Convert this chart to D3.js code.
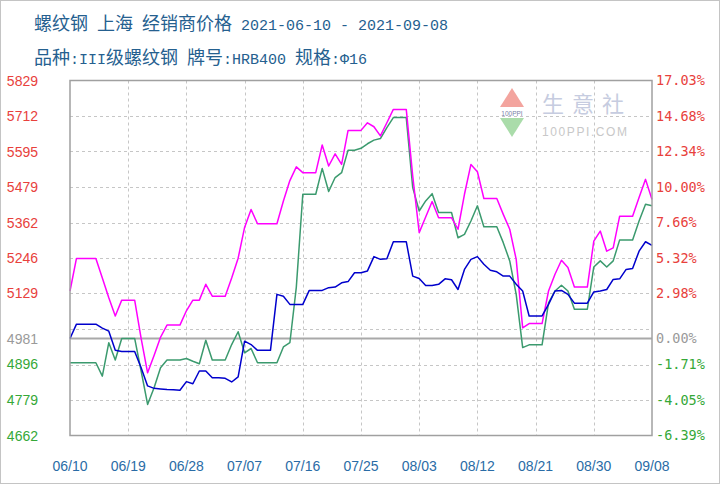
<!DOCTYPE html>
<html><head><meta charset="utf-8">
<script src="https://cdn.jsdelivr.net/npm/d3@7"></script>
<style>body{margin:0;background:#fff;} svg{display:block;} text{white-space:pre;}</style>
</head><body><svg id="c" width="720" height="484"></svg>
<script>
// ---- data ----
const titleLine1 = "螺纹钢 上海 经销商价格 2021-06-10 - 2021-09-08";
const titleLine2 = "品种:III级螺纹钢 牌号:HRB400 规格:Φ16";
const startDate = "2021-06-10";
const endDate = "2021-09-08";
const baseValue = 4981;

const magentaValues = [5137,5244,5244,5244,5244,5180,5115,5055,5107,5107,
  5107,4981,4868,4925,4985,5025,5025,5025,5072,5107,
  5107,5159,5120,5120,5120,5180,5245,5346,5405,5358,
  5358,5358,5358,5433,5500,5545,5526,5526,5526,5617,
  5548,5588,5553,5665,5665,5665,5690,5677,5647,5690,
  5734,5734,5734,5515,5329,5380,5431,5378,5378,5378,
  5340,5455,5553,5529,5441,5441,5441,5389,5340,5241,
  5016,5030,5030,5030,5137,5192,5238,5214,5150,5150,
  5150,5301,5334,5268,5279,5383,5383,5383,5444,5504,5438];
const greenValues = [4901,4901,4901,4901,4901,4857,4967,4910,4981,4981,
  4981,4874,4764,4819,4885,4910,4910,4910,4915,4906,
  4898,4975,4910,4910,4910,4961,5003,4934,4948,4901,
  4901,4901,4901,4953,4967,5150,5455,5455,5455,5540,
  5464,5510,5526,5600,5600,5606,5621,5633,5638,5674,
  5707,5707,5707,5477,5400,5433,5457,5395,5395,5395,
  5312,5323,5367,5417,5348,5348,5348,5296,5236,5126,
  4951,4960,4960,4960,5098,5137,5156,5137,5077,5077,
  5077,5216,5236,5216,5236,5305,5305,5305,5367,5422,5417];
const blueValues = [4981,5028,5028,5028,5028,5015,5005,4942,4938,4938,
  4938,4885,4825,4817,4815,4813,4812,4811,4839,4832,
  4874,4874,4852,4852,4850,4838,4855,4972,4961,4942,
  4942,4942,5126,5120,5093,5093,5093,5139,5139,5139,
  5148,5150,5164,5168,5197,5197,5203,5250,5241,5243,
  5299,5299,5299,5186,5178,5155,5155,5159,5177,5174,
  5142,5208,5241,5250,5225,5205,5200,5186,5186,5159,
  5137,5055,5055,5055,5093,5137,5139,5126,5097,5097,
  5097,5134,5137,5142,5175,5177,5208,5211,5268,5299,5287];

const leftTickValues = [5829,5712,5595,5479,5362,5246,5129,4981,4896,4779,4662];
const rightTickLabels = ["17.03%","14.68%","12.34%","10.00%","7.66%","5.32%","2.98%","0.00%","-1.71%","-4.05%","-6.39%"];
const xTickLabels = ["06/10","06/19","06/28","07/07","07/16","07/25","08/03","08/12","08/21","08/30","09/08"];

// ---- layout ----
const svg = d3.select("#c");
const L = 70, R = 652, T = 80.5, B = 435.5;
const yMin = 4662, yMax = 5829;
const parse = d3.timeParse("%Y-%m-%d");
const d0 = parse(startDate), d1 = parse(endDate);
const dates = d3.range(magentaValues.length).map(i => d3.timeDay.offset(d0, i));

const x = d3.scaleTime().domain([d0, d1]).range([L, R]);
const y = d3.scaleLinear().domain([yMin, yMax]).range([B, T]);
const yPct = d3.scaleLinear().domain([yMin / baseValue - 1, yMax / baseValue - 1]).range([B, T]);

svg.append("rect").attr("width", 720).attr("height", 484).attr("fill", "#fff");
svg.append("rect").attr("x", 0.5).attr("y", 0.5).attr("width", 719).attr("height", 483)
  .attr("fill", "none").attr("stroke", "#c4c4c4");

// title
function richText(str, xPos, yPos) {
  const t = svg.append("text").attr("x", xPos).attr("y", yPos).attr("fill", "#25608f");
  const runs = str.match(/[\u3000-\u9fff]+|[^\u3000-\u9fff]+/g);
  runs.forEach(r => {
    const cjk = /[\u3000-\u9fff]/.test(r);
    t.append("tspan").text(r)
      .attr("font-family", cjk ? "Noto Sans CJK SC" : "Liberation Mono")
      .attr("font-size", cjk ? 18 : 15);
  });
}
richText(titleLine1, 34, 30);
richText(titleLine2, 34, 64);

// gridlines
const gridG = svg.append("g");
const nGrid = 10;
d3.range(1, nGrid).forEach(i => {
  const v = yMin + i * (yMax - yMin) / nGrid;
  gridG.append("line").attr("x1", L).attr("x2", R).attr("y1", Math.round(y(v)) + 0.5).attr("y2", Math.round(y(v)) + 0.5)
    .attr("stroke", "#c6c6c6").attr("stroke-dasharray", "3,3");
});
const xTicks = xTickLabels.map((s, i) => d3.timeDay.offset(d0, i * 9));
xTicks.slice(1, -1).forEach(d => {
  const xx = Math.round(x(d)) + 0.5;
  gridG.append("line").attr("x1", xx).attr("x2", xx).attr("y1", T).attr("y2", B)
    .attr("stroke", "#c6c6c6").attr("stroke-dasharray", "3,3");
});
// base line
gridG.append("line").attr("x1", L).attr("x2", R).attr("y1", y(baseValue)).attr("y2", y(baseValue))
  .attr("stroke", "#a9a9a9").attr("stroke-width", 2);

// watermark
const wm = svg.append("g");
wm.append("path").attr("d", "M512,88 L500,107 L524,107 Z").attr("fill", "#f3a49e");
wm.append("path").attr("d", "M500,118 L524,118 L512,137 Z").attr("fill", "#aadcaa");
wm.append("text").attr("x", 512).attr("y", 115.5).attr("text-anchor", "middle")
  .attr("font-family", "Liberation Sans").attr("font-size", 6.5).attr("fill", "#7a7fa8").text("100PPI");
wm.append("text").attr("x", 542).attr("y", 112).attr("font-family", "Noto Sans CJK SC")
  .attr("font-size", 22).attr("letter-spacing", 8).attr("fill", "#c6cce0").text("生意社");
wm.append("text").attr("x", 542).attr("y", 136).attr("font-family", "Liberation Sans")
  .attr("font-size", 12).attr("textLength", 85).attr("fill", "#c8c8c8").text("100PPI.COM");

// lines
const line = d3.line().x((d, i) => x(dates[i])).y(d => y(d));
[[greenValues, "#3b9a6e"], [magentaValues, "#ff00ff"], [blueValues, "#0000cc"]].forEach(([vals, col]) => {
  svg.append("path").datum(vals).attr("d", line).attr("fill", "none")
    .attr("stroke", col).attr("stroke-width", 1.5).attr("stroke-linejoin", "round");
});

// border
svg.append("rect").attr("x", L).attr("y", T).attr("width", R - L).attr("height", B - T)
  .attr("fill", "none").attr("stroke", "#a0a0a0").attr("stroke-width", 1.5);

// left axis labels
function tickColor(v) { return v > baseValue ? "#e8413c" : (v < baseValue ? "#35a838" : "#9a9a9a"); }
leftTickValues.forEach(v => {
  svg.append("text").attr("x", 38).attr("y", y(v)).attr("dy", "0.36em").attr("text-anchor", "end")
    .attr("font-family", "Liberation Sans").attr("font-size", 14).attr("fill", tickColor(v)).text(v);
});
// right axis labels
rightTickLabels.forEach(s => {
  const p = parseFloat(s) / 100;
  svg.append("text").attr("x", 656).attr("y", yPct(p)).attr("dy", "0.36em")
    .attr("font-family", "DejaVu Sans Mono").attr("font-size", 13.5)
    .attr("fill", p > 0 ? "#e8413c" : (p < 0 ? "#35a838" : "#9a9a9a")).text(s);
});
// bottom labels
xTicks.forEach((d, i) => {
  svg.append("text").attr("x", x(d)).attr("y", 471).attr("text-anchor", "middle")
    .attr("font-family", "Liberation Sans").attr("font-size", 14).attr("fill", "#2a6ca6").text(xTickLabels[i]);
});
</script></body></html>
